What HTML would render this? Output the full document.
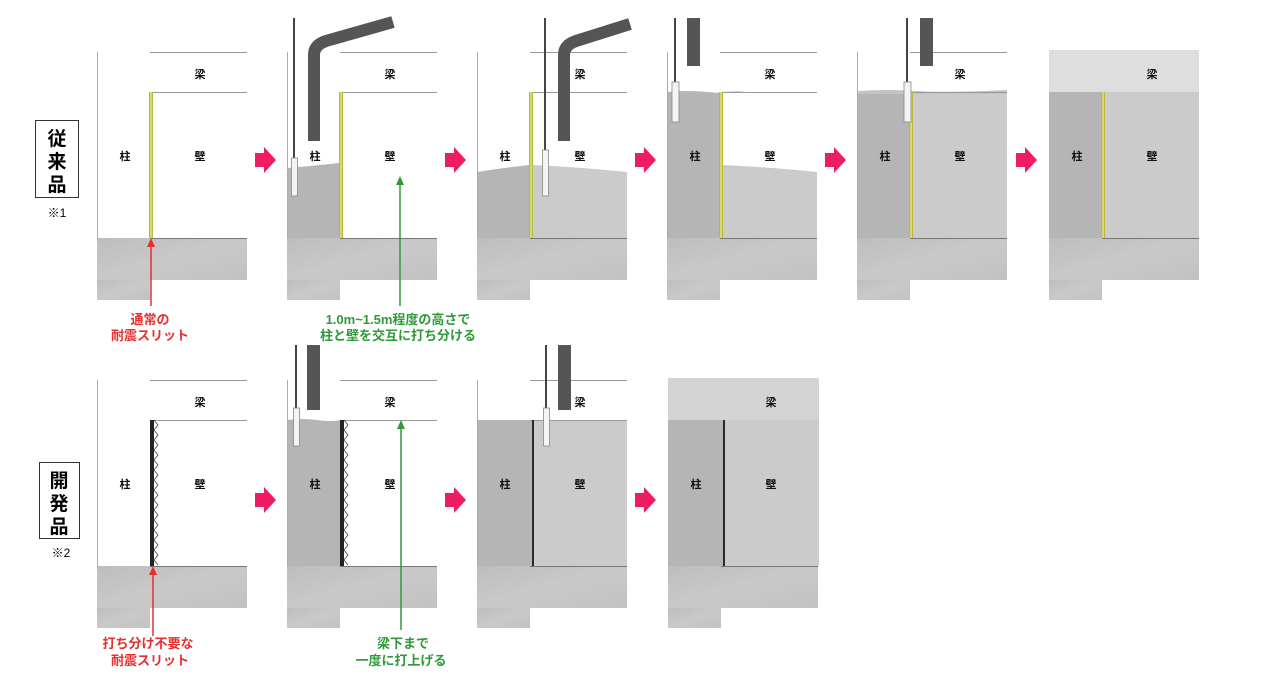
<!DOCTYPE html>
<html><head><meta charset="utf-8"><style>
html,body{margin:0;padding:0;background:#fff;}
svg{display:block;}
text{font-family:"Liberation Sans","Noto Sans CJK JP",sans-serif;}
.l{font-size:11px;font-weight:bold;fill:#111;text-anchor:middle;}
.r{font-size:13px;font-weight:bold;fill:#e5302e;text-anchor:middle;}
.g{font-size:13px;font-weight:bold;fill:#2e9a3a;text-anchor:middle;}
</style></head><body>
<svg width="1264" height="674" viewBox="0 0 1264 674" xmlns="http://www.w3.org/2000/svg">
<defs>
<linearGradient id="fd" x1="0" y1="0" x2="1" y2="1">
<stop offset="0" stop-color="#bdbdbd"/><stop offset="0.5" stop-color="#c9c9c9"/><stop offset="1" stop-color="#c2c2c2"/>
</linearGradient>
<g id="base">
<rect x="0" y="188" width="150" height="42" fill="url(#fd)"/>
<rect x="0" y="230" width="53" height="20" fill="url(#fd)"/>
<line x1="53" y1="188.5" x2="150" y2="188.5" stroke="#777" stroke-width="1"/>
</g>
<g id="lines">
<line x1="0.5" y1="2" x2="0.5" y2="188" stroke="#aaa" stroke-width="1"/>
<line x1="53" y1="2.5" x2="150" y2="2.5" stroke="#999" stroke-width="1"/>
<line x1="53" y1="42.5" x2="150" y2="42.5" stroke="#999" stroke-width="1"/>
</g>
<g id="yslit"><rect x="52" y="42" width="4" height="146" fill="#b8b83a"/><rect x="53" y="42" width="2" height="146" fill="#d8d870"/></g>
<g id="hslit"><rect x="53" y="42" width="4" height="146" fill="#222"/>
<polyline points="57,42 61,47 57,52 61,57 57,62 61,67 57,72 61,77 57,82 61,87 57,92 61,97 57,102 61,107 57,112 61,117 57,122 61,127 57,132 61,137 57,142 61,147 57,152 61,157 57,162 61,167 57,172 61,177 57,182 61,187" fill="none" stroke="#444" stroke-width="0.8"/></g>
<g id="labels"><text class="l" x="103" y="28">梁</text><text class="l" x="28" y="110">柱</text><text class="l" x="103" y="110">壁</text></g>
<g id="arr"><rect x="0" y="6" width="10" height="14" fill="#ee1c64"/><polygon points="9,0 21,13 9,26" fill="#ee1c64"/></g>
</defs>

<!-- left labels -->
<rect x="35.5" y="120.5" width="43" height="77" fill="#fff" stroke="#333"/>
<text x="57" y="145" style="font-size:19px;font-weight:bold;text-anchor:middle">従</text>
<text x="57" y="168" style="font-size:19px;font-weight:bold;text-anchor:middle">来</text>
<text x="57" y="191" style="font-size:19px;font-weight:bold;text-anchor:middle">品</text>
<text x="57" y="217" style="font-size:12px;text-anchor:middle">※1</text>
<rect x="39.5" y="462.5" width="40" height="76" fill="#fff" stroke="#333"/>
<text x="59" y="487" style="font-size:19px;font-weight:bold;text-anchor:middle">開</text>
<text x="59" y="510" style="font-size:19px;font-weight:bold;text-anchor:middle">発</text>
<text x="59" y="533" style="font-size:19px;font-weight:bold;text-anchor:middle">品</text>
<text x="61" y="557" style="font-size:12px;text-anchor:middle">※2</text>

<!-- TOP ROW -->
<g transform="translate(97,50)"><use href="#base"/><use href="#lines"/><use href="#yslit"/><use href="#labels"/></g>

<g transform="translate(287,50)">
<path d="M0,118 Q25,116 52,113 L52,188 L0,188 Z" fill="#b5b5b5"/>
<use href="#base"/><use href="#lines"/><use href="#yslit"/><use href="#labels"/>
</g>
<g transform="translate(477,50)">
<path d="M0,122 Q25,118 52,115 L52,188 L0,188 Z" fill="#b5b5b5"/>
<path d="M56,115 Q100,117 150,122 L150,188 L56,188 Z" fill="#cbcbcb"/>
<use href="#base"/><use href="#lines"/><use href="#yslit"/><use href="#labels"/>
</g>
<g transform="translate(667,50)">
<path d="M0,42 Q20,40 40,42 T80,41 L52,42 L52,188 L0,188 Z" fill="#b5b5b5"/>
<path d="M56,115 Q100,117 150,122 L150,188 L56,188 Z" fill="#cbcbcb"/>
<use href="#base"/><use href="#lines"/><use href="#yslit"/><use href="#labels"/>
</g>
<g transform="translate(857,50)">
<rect x="0" y="42" width="52" height="146" fill="#b5b5b5"/>
<rect x="56" y="42" width="94" height="146" fill="#cbcbcb"/>
<path d="M0,41 Q30,39 60,41 T150,40 L150,44 L0,44 Z" fill="#c4c4c4"/>
<use href="#base"/><use href="#lines"/><use href="#yslit"/><use href="#labels"/>
</g>
<g transform="translate(1049,50)">
<rect x="0" y="0" width="150" height="42" fill="#dedede"/>
<rect x="0" y="42" width="52" height="146" fill="#b5b5b5"/>
<rect x="56" y="42" width="94" height="146" fill="#cbcbcb"/>
<use href="#base"/><use href="#yslit"/><use href="#labels"/>
</g>

<!-- tools top -->
<line x1="294" y1="18" x2="294" y2="160" stroke="#444" stroke-width="2"/>
<rect x="291.5" y="158" width="6" height="38" fill="#f4f4f4" stroke="#888" stroke-width="0.8"/>
<path d="M314,141 V55 Q314,45 326,41 L393,22" fill="none" stroke="#555" stroke-width="12"/>
<line x1="545" y1="18" x2="545" y2="152" stroke="#444" stroke-width="2"/>
<rect x="542.5" y="150" width="6" height="46" fill="#f4f4f4" stroke="#888" stroke-width="0.8"/>
<path d="M564,141 V55 Q564,45 576,41 L630,24" fill="none" stroke="#555" stroke-width="12"/>
<line x1="675" y1="18" x2="675" y2="84" stroke="#444" stroke-width="2"/>
<rect x="672" y="82" width="7" height="40" fill="#f4f4f4" stroke="#888" stroke-width="0.8"/>
<rect x="687" y="18" width="13" height="48" fill="#555"/>
<line x1="907" y1="18" x2="907" y2="84" stroke="#444" stroke-width="2"/>
<rect x="904" y="82" width="7" height="40" fill="#f4f4f4" stroke="#888" stroke-width="0.8"/>
<rect x="920" y="18" width="13" height="48" fill="#555"/>

<!-- arrows top -->
<use href="#arr" x="255" y="147"/><use href="#arr" x="445" y="147"/><use href="#arr" x="635" y="147"/><use href="#arr" x="825" y="147"/><use href="#arr" x="1016" y="147"/>

<!-- BOTTOM ROW -->
<g transform="translate(97,378)"><use href="#base"/><use href="#lines"/><use href="#hslit"/><use href="#labels"/></g>
<g transform="translate(287,378)">
<path d="M0,42 Q15,40 30,42 T53,42 L53,188 L0,188 Z" fill="#b5b5b5"/>
<use href="#base"/><use href="#lines"/><use href="#hslit"/><use href="#labels"/>
</g>
<g transform="translate(477,378)">
<rect x="0" y="42" width="56" height="146" fill="#b5b5b5"/>
<rect x="56" y="42" width="94" height="146" fill="#cbcbcb"/>
<use href="#base"/><use href="#lines"/>
<rect x="55" y="42" width="2" height="146" fill="#2a2a2a"/><use href="#labels"/>
</g>
<g transform="translate(668,378)">
<rect x="0" y="0" width="151" height="42" fill="#d4d4d4"/>
<rect x="0" y="42" width="56" height="146" fill="#b5b5b5"/>
<rect x="56" y="42" width="95" height="146" fill="#cbcbcb"/>
<use href="#base"/>
<rect x="55" y="42" width="2" height="146" fill="#2a2a2a"/><use href="#labels"/>
</g>

<!-- tools bottom -->
<line x1="296" y1="345" x2="296" y2="410" stroke="#444" stroke-width="2"/>
<rect x="293.5" y="408" width="6" height="38" fill="#f4f4f4" stroke="#888" stroke-width="0.8"/>
<rect x="307" y="345" width="13" height="65" fill="#555"/>
<line x1="546" y1="345" x2="546" y2="410" stroke="#444" stroke-width="2"/>
<rect x="543.5" y="408" width="6" height="38" fill="#f4f4f4" stroke="#888" stroke-width="0.8"/>
<rect x="558" y="345" width="13" height="65" fill="#555"/>

<!-- arrows bottom -->
<use href="#arr" x="255" y="487"/><use href="#arr" x="445" y="487"/><use href="#arr" x="635" y="487"/>

<!-- annotations -->
<line x1="151" y1="306" x2="151" y2="246" stroke="#e5302e" stroke-width="1.5"/>
<polygon points="151,238 147,247 155,247" fill="#e5302e"/>
<text class="r" x="150" y="324">通常の</text>
<text class="r" x="150" y="340">耐震スリット</text>
<line x1="400" y1="306" x2="400" y2="184" stroke="#2e9a3a" stroke-width="1.5"/>
<polygon points="400,176 396,185 404,185" fill="#2e9a3a"/>
<text class="g" x="398" y="324">1.0m~1.5m程度の高さで</text>
<text class="g" x="398" y="340">柱と壁を交互に打ち分ける</text>

<line x1="153" y1="636" x2="153" y2="574" stroke="#e5302e" stroke-width="1.5"/>
<polygon points="153,566 149,575 157,575" fill="#e5302e"/>
<text class="r" x="148" y="648">打ち分け不要な</text>
<text class="r" x="150" y="665">耐震スリット</text>
<line x1="401" y1="630" x2="401" y2="428" stroke="#2e9a3a" stroke-width="1.5"/>
<polygon points="401,420 397,429 405,429" fill="#2e9a3a"/>
<text class="g" x="403" y="648">梁下まで</text>
<text class="g" x="401" y="665">一度に打上げる</text>
</svg>
</body></html>
